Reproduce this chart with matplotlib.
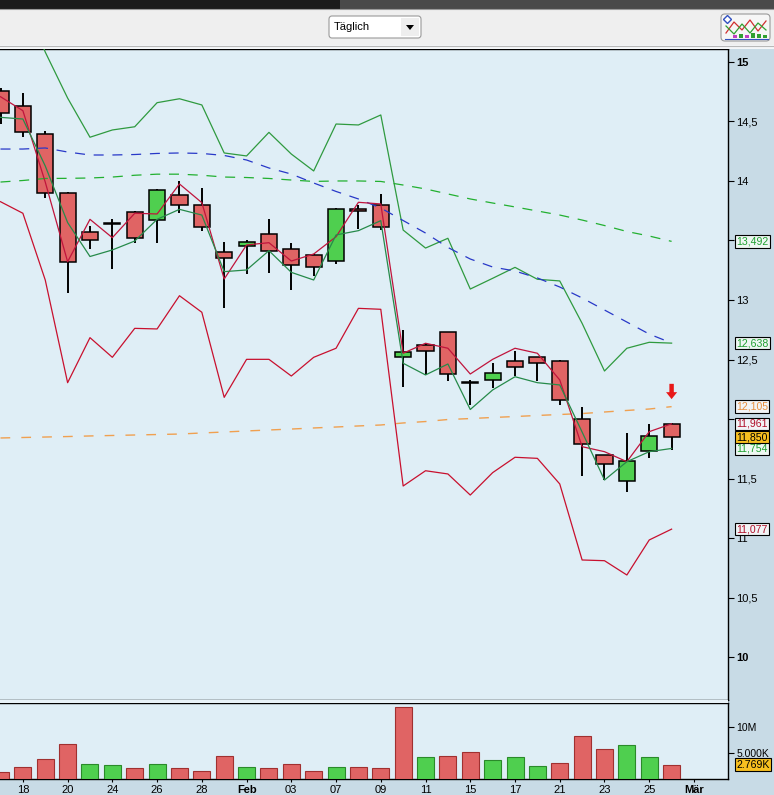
import matplotlib
matplotlib.use('Agg')
import matplotlib.pyplot as plt
from matplotlib.patches import Rectangle, FancyBboxPatch, Polygon
from matplotlib.transforms import blended_transform_factory
from matplotlib.text import OffsetFrom
from matplotlib.lines import Line2D

plt.rcParams['font.family'] = ['Liberation Sans', 'DejaVu Sans']

# ---------------- data ----------------
dates = ['2011-01-17', '2011-01-18', '2011-01-19', '2011-01-20', '2011-01-21',
         '2011-01-24', '2011-01-25', '2011-01-26', '2011-01-27', '2011-01-28',
         '2011-01-31', '2011-02-01', '2011-02-02', '2011-02-03', '2011-02-04',
         '2011-02-07', '2011-02-08', '2011-02-09', '2011-02-10', '2011-02-11',
         '2011-02-14', '2011-02-15', '2011-02-16', '2011-02-17', '2011-02-18',
         '2011-02-21', '2011-02-22', '2011-02-23', '2011-02-24', '2011-02-25',
         '2011-02-28']

opens = [14.75, 14.63, 14.39, 13.90, 13.57, 13.64, 13.74, 13.67, 13.88, 13.80,
         13.40, 13.45, 13.55, 13.43, 13.38, 13.33, 13.76, 13.80, 12.52, 12.62,
         12.73, 12.31, 12.33, 12.49, 12.52, 12.49, 12.00, 11.70, 11.48, 11.73,
         11.96]
highs = [14.78, 14.74, 14.42, 13.91, 13.62, 13.68, 13.75, 13.93, 14.00, 13.94,
         13.49, 13.50, 13.68, 13.48, 13.39, 13.77, 13.80, 13.89, 12.75, 12.64,
         12.73, 12.33, 12.47, 12.57, 12.52, 12.50, 12.10, 11.70, 11.88, 11.96,
         11.97]
lows = [14.48, 14.37, 13.86, 13.06, 13.43, 13.26, 13.48, 13.48, 13.73, 13.58,
        12.93, 13.22, 13.23, 13.08, 13.20, 13.30, 13.60, 13.59, 12.27, 12.37,
        12.32, 12.12, 12.26, 12.36, 12.32, 12.12, 11.52, 11.49, 11.39, 11.67,
        11.74]
closes = [14.57, 14.41, 13.90, 13.32, 13.50, 13.65, 13.52, 13.92, 13.80, 13.61,
          13.35, 13.49, 13.41, 13.29, 13.28, 13.76, 13.75, 13.61, 12.56, 12.57,
          12.38, 12.30, 12.39, 12.44, 12.47, 12.16, 11.79, 11.62, 11.65, 11.86,
          11.850]

# volume in thousand shares
volume = [1350, 2250, 3800, 6700, 2800, 2600, 2050, 2800, 2050, 1500,
          4350, 2250, 2050, 2800, 1500, 2250, 2250, 2050, 13800, 4200,
          4350, 5100, 3600, 4200, 2450, 3000, 8200, 5700, 6500, 4200,
          2769]

# short envelope (upper: red, lower: green)
env_upper = [14.706, 14.589, 13.990, 13.321, 13.677, 13.523, 13.728, 13.722, 13.974, 13.817,
             13.176, 13.462, 13.481, 13.327, 13.386, 13.531, 13.820, 13.806, 12.553, 12.637,
             12.595, 12.379, 12.502, 12.595, 12.553, 12.329, 11.769, 11.727, 11.643, 11.895,
             11.961]
env_lower = [14.533, 14.519, 14.125, 13.650, 13.365, 13.420, 13.495, 13.677, 13.761, 13.713,
             13.238, 13.252, 13.414, 13.232, 13.168, 13.546, 13.582, 13.666, 12.469, 12.371,
             12.463, 12.081, 12.245, 12.356, 12.306, 12.287, 11.892, 11.489, 11.643, 11.727,
             11.754]

# outer bands (upper: green, lower: red)
band_upper = [15.60, 15.55, 15.081, 14.695, 14.366, 14.427, 14.454, 14.656, 14.689, 14.637,
              14.234, 14.209, 14.407, 14.225, 14.083, 14.477, 14.469, 14.553, 13.587, 13.436,
              13.518, 13.092, 13.182, 13.274, 13.174, 13.160, 12.804, 12.404, 12.595, 12.645,
              12.638]
band_lower = [13.825, 13.728, 13.168, 12.306, 12.684, 12.519, 12.762, 12.757, 13.036, 12.897,
              12.183, 12.502, 12.502, 12.362, 12.519, 12.595, 12.930, 12.922, 11.439, 11.567,
              11.540, 11.363, 11.551, 11.680, 11.671, 11.456, 10.818, 10.812, 10.692, 10.986,
              11.077]

# moving averages (dashed)
ma_blue = [14.267, 14.267, 14.276, 14.242, 14.217, 14.217, 14.221, 14.230, 14.234, 14.230,
           14.213, 14.175, 14.108, 14.057, 13.982, 13.911, 13.848, 13.772, 13.667, 13.562,
           13.441, 13.344, 13.277, 13.243, 13.185, 13.109, 13.017, 12.916, 12.815, 12.714,
           12.639]
ma_green = [13.990, 14.003, 14.020, 14.021, 14.024, 14.032, 14.047, 14.056, 14.056, 14.047,
            14.032, 14.028, 14.020, 14.007, 13.995, 13.999, 13.999, 13.995, 13.965, 13.932,
            13.890, 13.848, 13.814, 13.781, 13.747, 13.713, 13.671, 13.625, 13.575, 13.537,
            13.492]
ma_orange = [11.842, 11.846, 11.850, 11.854, 11.859, 11.863, 11.867, 11.871, 11.875, 11.884,
             11.892, 11.901, 11.909, 11.917, 11.926, 11.934, 11.943, 11.951, 11.968, 11.980,
             11.997, 12.005, 12.014, 12.022, 12.031, 12.039, 12.047, 12.060, 12.073, 12.085,
             12.105]

price_ticks = [10, 10.5, 11, 11.5, 12, 12.5, 13, 13.5, 14, 14.5, 15]
hidden_price_labels = [12, 13.5]   # covered by value boxes in the reference
vol_ticks = [5000, 10000]
vol_tick_labels = ['5.000K', '10M']
tick_days = ['2011-01-18', '2011-01-20', '2011-01-24', '2011-01-26', '2011-01-28',
             '2011-02-01', '2011-02-03', '2011-02-07', '2011-02-09', '2011-02-11',
             '2011-02-15', '2011-02-17', '2011-02-21', '2011-02-23', '2011-02-25',
             '2011-03-01']
tick_labels = ['18', '20', '24', '26', '28', 'Feb', '03', '07', '09', '11', '15',
               '17', '21', '23', '25', 'Mär']
period_label = 'Täglich'

# ---------------- styling ----------------
W, H = 774, 795
BG_CHART = '#dfeef6'
BG_AXIS = '#c8dbe6'
RED = '#e06464'
GREEN = '#4fcf4f'


def fx(px):
    return px / W


def fy(py):
    return 1 - py / H


def de(v, nd=3):
    return f"{v:.{nd}f}".replace('.', ',')


def tick_fmt(v):
    if v in hidden_price_labels:
        return ''
    return str(int(v)) if float(v).is_integer() else de(v, 1)


fig = plt.figure(figsize=(W / 100, H / 100), dpi=100, facecolor=BG_AXIS)

# top bars
fig.patches.append(Rectangle((0, fy(9)), fx(340), 9 / H, transform=fig.transFigure,
                             fc='#1c1c1c', ec='none'))
fig.patches.append(Rectangle((fx(340), fy(9)), 1 - fx(340), 9 / H, transform=fig.transFigure,
                             fc='#4a4a4a', ec='none'))
fig.patches.append(Rectangle((0, fy(45)), 1, 36 / H, transform=fig.transFigure,
                             fc='#efefef', ec='none'))
fig.patches.append(Rectangle((0, fy(49)), 1, 4 / H, transform=fig.transFigure,
                             fc='#f4f6f8', ec='none'))
fig.add_artist(Line2D([0, 1], [fy(45.5), fy(45.5)], color='#b8b8b8', lw=0.8))
fig.add_artist(Line2D([0, 1], [fy(8.5), fy(8.5)], color='#9a9a9a', lw=0.8))

# dropdown
fig.patches.append(FancyBboxPatch((fx(329), fy(38)), fx(92), 22 / H,
                                  boxstyle='round,pad=0,rounding_size=0.004',
                                  transform=fig.transFigure, fc='white', ec='#9a9a9a', lw=0.8))
fig.patches.append(Rectangle((fx(401), fy(36)), fx(18), 18 / H, transform=fig.transFigure,
                             fc='#eeeeee', ec='none'))
fig.text(fx(334), fy(27.5), period_label, fontsize=8, va='center', ha='left', color='black')
fig.patches.append(Polygon([[fx(406), fy(25)], [fx(414), fy(25)], [fx(410), fy(30)]],
                           closed=True, transform=fig.transFigure, fc='black', ec='none'))

# icon at top right
fig.patches.append(FancyBboxPatch((fx(721), fy(41)), fx(49), 27 / H,
                                  boxstyle='round,pad=0,rounding_size=0.005',
                                  transform=fig.transFigure, fc='#f6f6f6', ec='#9a9a9a', lw=0.8))
fig.add_artist(Line2D([fx(p) for p in [726, 734, 742, 750, 758, 766]],
                      [fy(p) for p in [33, 22, 30, 20, 31, 21]], color='#d03030', lw=0.9))
fig.add_artist(Line2D([fx(p) for p in [726, 734, 742, 750, 758, 766]],
                      [fy(p) for p in [26, 34, 24, 33, 23, 30]], color='#30a030', lw=0.9))
for bx, bh, bc in [(733, 3, '#c040c0'), (739, 4, '#30a030'), (745, 3, '#c040c0'),
                   (751, 5, '#30a030'), (757, 4, '#30a030'), (763, 3, '#30a030')]:
    fig.patches.append(Rectangle((fx(bx), fy(38)), fx(4), bh / H, transform=fig.transFigure,
                                 fc=bc, ec='none'))
fig.add_artist(Line2D([fx(725), fx(768)], [fy(38.5), fy(38.5)], color='#3050c0', lw=0.8))
fig.add_artist(Line2D([fx(727)], [fy(19)], marker='D', ms=4, mfc='white', mec='#3050c0', lw=0))

# gap between panels
fig.patches.append(Rectangle((0, fy(703)), fx(728), 3 / H, transform=fig.transFigure,
                             fc='#e8f2f8', ec='none'))

# ---------------- axes ----------------
ax = fig.add_axes([0, fy(700), fx(728), (700 - 49) / H], facecolor=BG_CHART)
axv = fig.add_axes([0, fy(779), fx(728), (779 - 703) / H], facecolor=BG_CHART)

n = len(dates)
xs = list(range(n))
x_left = -0.5 / 22.37
x_right = (728 - 0.5) / 22.37

# wicks
ax.vlines(xs, lows, highs, color='black', lw=1.4, zorder=2)
# bodies
body_bottom = [min(o, c) for o, c in zip(opens, closes)]
body_h = [abs(c - o) for o, c in zip(opens, closes)]
body_col = [GREEN if c > o else RED for o, c in zip(opens, closes)]
ax.bar(xs, body_h, bottom=body_bottom, width=0.72, color=body_col, edgecolor='black',
       lw=1.1, zorder=3)

# lines
ax.plot(xs, band_upper, color='#2f9a3f', lw=0.9, zorder=4)
ax.plot(xs, band_lower, color='#c8102e', lw=0.9, zorder=4)
ax.plot(xs, env_upper, color='#c0143c', lw=0.9, zorder=5)
ax.plot(xs, env_lower, color='#268a4a', lw=0.9, zorder=5)
ax.plot(xs, ma_blue, color='#2838c8', lw=0.9, dashes=(8, 7), zorder=4)
ax.plot(xs, ma_green, color='#22b030', lw=0.9, dashes=(8, 7), zorder=4)
ax.plot(xs, ma_orange, color='#f0a050', lw=1.0, dashes=(7, 8), zorder=4)

# red signal arrow above last candle
off = OffsetFrom(ax.transData, (xs[-1], highs[-1]))
ax.annotate('', xy=(0, 17), xycoords=off, xytext=(0, 28), textcoords=off,
            arrowprops=dict(facecolor='#e81818', edgecolor='none', width=3.2,
                            headwidth=8, headlength=5, shrink=0), zorder=6)

ax.set_xlim(x_left, x_right)
ax.set_ylim(15 - (700 - 61.7) / 119.15, 15 + (61.7 - 49) / 119.15)
ax.set_xticks([])
ax.yaxis.tick_right()
ax.set_yticks(price_ticks, [tick_fmt(t) for t in price_ticks])
ax.tick_params(axis='y', direction='out', length=4, width=0.8, pad=2, labelsize=8)
for lbl in ax.get_yticklabels():
    if lbl.get_text() in ('15', '10'):
        lbl.set_fontweight('bold')
ax.spines['left'].set_visible(False)
for s in ['top', 'right', 'bottom']:
    ax.spines[s].set_color('black')
    ax.spines[s].set_linewidth(1.0)

# value boxes on the right axis
trans = blended_transform_factory(ax.transAxes, ax.transData)
boxes = [(ma_green[-1], '#1fa030', '#eef7f2'),
         (band_upper[-1], '#1fa030', '#eef7f2'),
         (ma_orange[-1], '#e89040', '#f2f4f6'),
         (env_upper[-1], '#b0102a', '#f2f4f6'),
         (env_lower[-1], '#1fa030', '#eef7f2'),
         (closes[-1], 'black', '#f8c020'),
         (band_lower[-1], '#b0102a', '#f2f4f6')]
for val, tc, fc in boxes:
    ax.text(1.011, val, de(val), transform=trans, fontsize=7.6, color=tc, va='center',
            ha='left', clip_on=False, zorder=10,
            bbox=dict(boxstyle='square,pad=0.12', fc=fc, ec='black', lw=0.8))

# ---------------- volume ----------------
vol_col = [RED] + [GREEN if closes[i] > closes[i - 1] else RED for i in range(1, n)]
vol_edge = ['#a03030' if c == RED else '#2a8a2a' for c in vol_col]
axv.bar(xs, volume, width=0.76, color=vol_col, edgecolor=vol_edge, lw=0.8, zorder=3)
axv.set_xlim(x_left, x_right)
axv.set_ylim(0, 14600)
axv.yaxis.tick_right()
axv.set_yticks(vol_ticks, vol_tick_labels)
axv.tick_params(axis='y', direction='out', length=4, width=0.8, pad=2, labelsize=7.5)
tick_pos = [dates.index(d) if d in dates else n for d in tick_days]
axv.set_xticks(tick_pos, tick_labels)
axv.tick_params(axis='x', direction='out', length=2, width=0.8, pad=2, labelsize=8)
for lbl in axv.get_xticklabels():
    if not lbl.get_text().isdigit():
        lbl.set_fontweight('bold')
axv.spines['left'].set_visible(False)
for s in ['top', 'right', 'bottom']:
    axv.spines[s].set_color('black')
    axv.spines[s].set_linewidth(1.0)
vtrans = blended_transform_factory(axv.transAxes, axv.transData)
axv.text(1.011, volume[-1], f"{volume[-1]:,.0f}K".replace(',', '.'), transform=vtrans,
         fontsize=7.6, color='black', va='center', ha='left', clip_on=False, zorder=10,
         bbox=dict(boxstyle='square,pad=0.12', fc='#f8c020', ec='black', lw=0.8))

fig.savefig('out.png', dpi=100, facecolor=fig.get_facecolor())
